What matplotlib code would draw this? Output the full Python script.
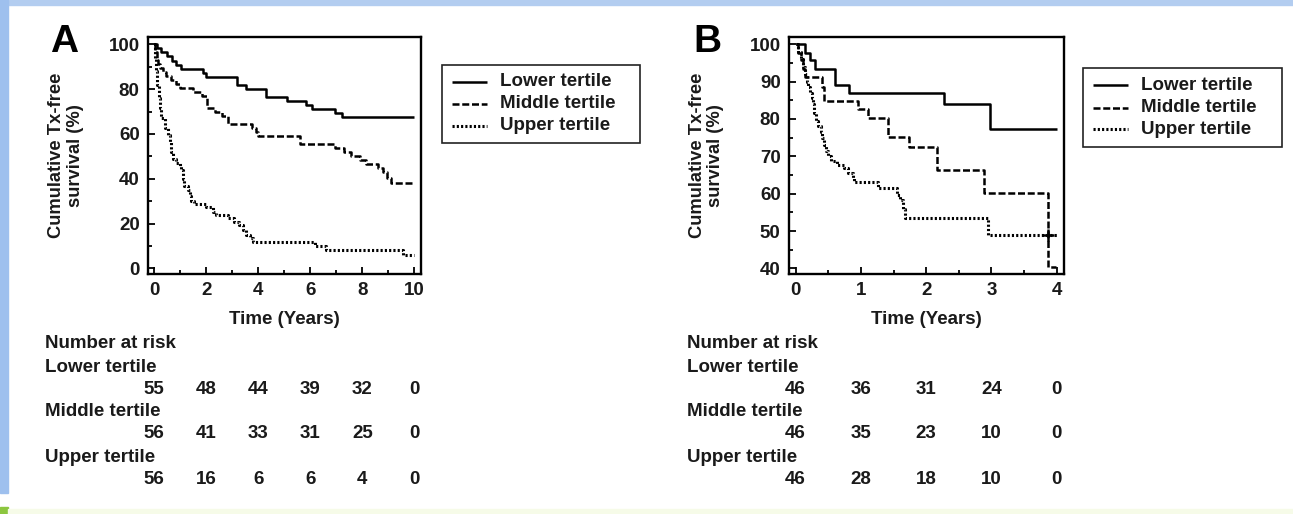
import matplotlib
matplotlib.use("Agg")
import matplotlib.pyplot as plt
from matplotlib.patches import Rectangle
from matplotlib.lines import Line2D
import matplotlib.transforms as mtransforms

plt.rcParams['font.family'] = ['Liberation Sans', 'DejaVu Sans']
plt.rcParams['font.weight'] = 'bold'
INK = '#1a1a1a'
FS = 13.5

# ---- panel A data (years, % survival) ----
a_low_t = [0, 0.1, 0.25, 0.5, 0.7, 0.85, 1.05, 1.9, 2.0, 3.2, 3.55, 4.3, 5.1, 5.85, 6.05, 6.95, 7.2]
a_low_v = [100, 98.2, 96.4, 94.6, 92.8, 91.0, 89.2, 87.4, 85.6, 82.0, 80.2, 76.6, 74.8, 73.0, 71.2, 69.4, 67.6]
a_mid_t = [0, 0.05, 0.1, 0.15, 0.22, 0.34, 0.47, 0.66, 0.86, 0.98, 1.49, 1.85, 2.03, 2.35, 2.62,
           2.85, 3.75, 3.9, 4.0, 5.6, 6.95, 7.3, 7.55, 7.9, 8.15, 8.6, 8.8, 8.95, 9.1]
a_mid_v = [100, 96.4, 92.9, 91.1, 89.3, 87.5, 85.7, 83.9, 82.1, 80.4, 78.6, 76.8, 71.4, 69.6, 67.9,
           64.3, 62.5, 60.7, 58.9, 55.4, 53.6, 51.8, 50.0, 48.2, 46.4, 44.6, 42.9, 40.4, 38.2]
a_up_t = [0, 0.03, 0.06, 0.09, 0.13, 0.18, 0.22, 0.28, 0.41, 0.54, 0.6, 0.66, 0.73, 0.86, 0.98,
          1.05, 1.11, 1.17, 1.3, 1.37, 1.43, 1.52, 2.0, 2.26, 2.39, 2.84, 3.09, 3.28, 3.41, 3.54,
          3.67, 3.79, 6.17, 6.6, 9.55]
a_up_v = [100, 94, 91, 88, 82, 76, 71.5, 67, 62.5, 59.5, 56.5, 52, 49, 47, 45.5,
          44, 40, 37, 35, 32.5, 30, 28.6, 27.5, 25.3, 23.8, 22.3, 20.8, 19.3, 17.1, 14.9,
          13.4, 11.6, 9.8, 8.0, 5.8]
a_end = [10.0, 10.0, 10.0]

# ---- panel B data ----
b_low_t = [0, 0.14, 0.22, 0.3, 0.6, 0.82, 2.27, 2.97]
b_low_v = [100, 97.8, 95.7, 93.5, 89.1, 87.0, 83.9, 77.3]
b_mid_t = [0, 0.04, 0.09, 0.12, 0.14, 0.4, 0.43, 0.96, 1.11, 1.42, 1.73, 2.16, 2.88, 3.86]
b_mid_v = [100, 97.8, 95.7, 93.5, 91.3, 88.5, 84.8, 82.6, 80.2, 75.3, 72.5, 66.3, 60.2, 40.3]
b_up_t = [0, 0.04, 0.08, 0.11, 0.14, 0.17, 0.19, 0.22, 0.25, 0.27, 0.28, 0.32, 0.35, 0.39, 0.41,
          0.43, 0.46, 0.49, 0.54, 0.64, 0.74, 0.81, 0.88, 0.9, 1.27, 1.55, 1.6, 1.65, 1.68, 2.95]
b_up_v = [100, 98, 96, 94, 92, 90, 88.5, 87, 85.5, 84, 81.5, 79.5, 78, 76.5, 75,
          73, 71.5, 70, 68.7, 67.7, 66.8, 65.5, 64.2, 63.2, 61.5, 59.7, 58.4, 56, 53.4, 49]
b_end = [4.0, 3.98, 4.0]
b_censor_t = [3.86]
b_censor_v = [49]

groups = ['Lower tertile', 'Middle tertile', 'Upper tertile']
a_times = [0, 2, 4, 6, 8, 10]
a_risk = [[55, 48, 44, 39, 32, 0], [56, 41, 33, 31, 25, 0], [56, 16, 6, 6, 4, 0]]
b_times = [0, 1, 2, 3, 4]
b_risk = [[46, 36, 31, 24, 0], [46, 35, 23, 10, 0], [46, 28, 18, 10, 0]]

styles = [dict(ls='-', lw=1.8), dict(ls=(0, (2.8, 1.1)), lw=1.8), dict(ls=(0, (0.7, 0.7)), lw=2.2)]

W, H = 1293, 514
fig = plt.figure(figsize=(W / 100, H / 100), dpi=100)
fig.patch.set_facecolor('white')

# slide frame
fig.patches.append(Rectangle((0, 1 - 5 / H), 1, 5 / H, transform=fig.transFigure,
                             color='#b3cdf0', zorder=0))
fig.patches.append(Rectangle((0, 1 - 493 / H), 8 / W, 493 / H, transform=fig.transFigure,
                             color='#9ec0ee', zorder=0))
fig.patches.append(Rectangle((0, 0), 8 / W, 7 / H, transform=fig.transFigure,
                             color='#8cc63f', zorder=0))
fig.patches.append(Rectangle((8 / W, 0), 1, 5 / H, transform=fig.transFigure,
                             color='#f6fbe8', zorder=0))


def px_axes(l, r, t, b):
    return fig.add_axes([l / W, 1 - b / H, (r - l) / W, (b - t) / H])


def panel(ax, series, ends, xlim, ylim, xmaj, xmin, ymaj, ymin):
    for (t, v), e, st in zip(series, ends, styles):
        ax.step(t + [e], v + [v[-1]], where='post', color='black',
                solid_capstyle='butt', dash_capstyle='butt', **st)
    ax.set_xlim(*xlim)
    ax.set_ylim(*ylim)
    ax.set_xticks(xmaj)
    ax.set_xticks(xmin, minor=True)
    ax.set_yticks(ymaj)
    ax.set_yticks(ymin, minor=True)
    ax.tick_params(which='both', direction='in', width=1.3, colors='black',
                   labelcolor=INK, labelsize=FS)
    ax.tick_params(which='major', length=5)
    ax.tick_params(which='minor', length=3)
    ax.tick_params(axis='x', pad=6)
    ax.tick_params(axis='y', pad=6)
    for lab in ax.get_xticklabels() + ax.get_yticklabels():
        lab.set_fontweight('bold')
    for s in ax.spines.values():
        s.set_linewidth(1.7)
    ax.text(0.5, -0.19, 'Time (Years)', transform=ax.transAxes, ha='center', va='center',
            fontsize=FS, fontweight='bold', color=INK)


def risk_table(ax, times, risk, xlab):
    tr = mtransforms.blended_transform_factory(ax.transData, fig.transFigure)
    trx = mtransforms.blended_transform_factory(ax.transAxes, fig.transFigure)
    ax.text(xlab, 1 - 343 / H, 'Number at risk', transform=trx, ha='left', va='center',
            fontsize=FS, fontweight='bold', color=INK, clip_on=False)
    for i, (g, row) in enumerate(zip(groups, risk)):
        yl = 367 + i * 45
        yn = 389 + i * 45
        ax.text(xlab, 1 - yl / H, g, transform=trx, ha='left', va='center',
                fontsize=FS, fontweight='bold', color=INK, clip_on=False)
        for x, n in zip(times, row):
            ax.text(x, 1 - yn / H, str(n), transform=tr, ha='center', va='center',
                    fontsize=FS, fontweight='bold', color=INK, clip_on=False)


def legend_box(l, r, t, b, rows_y):
    fig.patches.append(Rectangle((l / W, 1 - b / H), (r - l) / W, (b - t) / H,
                                 transform=fig.transFigure, fill=False,
                                 edgecolor='#222222', lw=1.2, zorder=3))
    for g, st, y in zip(groups, styles, rows_y):
        fig.add_artist(Line2D([(l + 10) / W, (l + 45) / W], [1 - y / H, 1 - y / H],
                              color='black', transform=fig.transFigure,
                              solid_capstyle='butt', dash_capstyle='butt', **st))
        fig.text((l + 58) / W, 1 - y / H, g, ha='left', va='center', fontsize=FS,
                 fontweight='bold', color=INK)


# ---- panel A ----
axA = px_axes(148, 421, 37, 274)
panel(axA, [(a_low_t, a_low_v), (a_mid_t, a_mid_v), (a_up_t, a_up_v)], a_end,
      (-0.23, 10.25), (-2.5, 103.3), a_times, [1, 3, 5, 7, 9],
      [0, 20, 40, 60, 80, 100], [10, 30, 50, 70, 90])
axA.text(-0.30, 0.5, 'Cumulative Tx-free\nsurvival (%)', transform=axA.transAxes,
         rotation=90, ha='center', va='center', multialignment='center',
         fontsize=13.2, fontweight='bold', color=INK, linespacing=1.15)
risk_table(axA, a_times, a_risk, -0.377)
fig.text(50 / W, 1 - 52 / H, 'A', ha='left', va='baseline', fontsize=28,
         fontweight='bold', color='black')
legend_box(442, 640, 65, 143, [82, 104, 126])

# ---- panel B ----
axB = px_axes(789, 1064, 37, 274)
panel(axB, [(b_low_t, b_low_v), (b_mid_t, b_mid_v), (b_up_t, b_up_v)], b_end,
      (-0.1, 4.11), (38.5, 101.95), b_times, [0.5, 1.5, 2.5, 3.5],
      [40, 50, 60, 70, 80, 90, 100], [45, 55, 65, 75, 85, 95])
axB.plot(b_censor_t, b_censor_v, '+', color='black', ms=8, mew=1.8)
axB.text(-0.30, 0.5, 'Cumulative Tx-free\nsurvival (%)', transform=axB.transAxes,
         rotation=90, ha='center', va='center', multialignment='center',
         fontsize=13.2, fontweight='bold', color=INK, linespacing=1.15)
risk_table(axB, b_times, b_risk, -0.372)
fig.text(693 / W, 1 - 52 / H, 'B', ha='left', va='baseline', fontsize=28,
         fontweight='bold', color='black')
legend_box(1083, 1282, 68, 147, [85, 108, 129])

fig.savefig('out.png', dpi=100, facecolor='white')
